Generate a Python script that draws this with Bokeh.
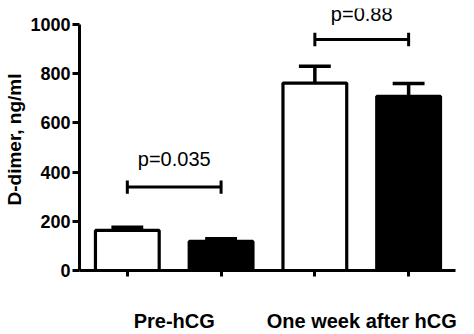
from bokeh.plotting import figure
from bokeh.models import ColumnDataSource, FixedTicker, Range1d
from bokeh.core.properties import value
from bokeh.embed import file_html
from bokeh.resources import INLINE

# ---- data ----
groups = ["Pre-hCG", "One week after hCG"]
bar_x = [1, 2, 3, 4]
means = [163, 118, 762, 708]
errors = [13, 11, 68, 52]
fills = ["white", "black", "white", "black"]
bracket_left = [1, 3]
bracket_right = [2, 4]
bracket_y = [339, 939]
p_labels = ["p=0.035", "p=0.88"]
p_y = [452, 1042]
y_ticks = [0, 200, 400, 600, 800, 1000]

FONT = "Liberation Sans"
W = 0.68

p = figure(width=474, height=334, output_backend="svg", toolbar_location=None,
           x_range=Range1d(0.49, 4.5), y_range=Range1d(0, 1065),
           min_border_left=79, min_border_right=19, min_border_top=8, min_border_bottom=64)
p.outline_line_color = None
p.grid.visible = False
p.background_fill_color = "white"

src = ColumnDataSource(dict(x=bar_x, top=means, fill=fills,
                            etop=[m + e for m, e in zip(means, errors)],
                            cl=[x - W / 4 for x in bar_x], cr=[x + W / 4 for x in bar_x]))
p.segment(x0="x", y0="top", x1="x", y1="etop", source=src, line_color="black", line_width=3.5)
p.segment(x0="cl", y0="etop", x1="cr", y1="etop", source=src, line_color="black", line_width=3.5)
p.vbar(x="x", top="top", bottom=0, width=W, source=src, fill_color="fill",
       line_color="black", line_width=3.2)

bsrc = ColumnDataSource(dict(x0=bracket_left, x1=bracket_right, y=bracket_y,
                             ylo=[y - 27 for y in bracket_y], yhi=[y + 27 for y in bracket_y],
                             xm=[(a + b) / 2 for a, b in zip(bracket_left, bracket_right)],
                             py=p_y, lab=p_labels))
p.segment(x0="x0", y0="y", x1="x1", y1="y", source=bsrc, line_color="black", line_width=3)
p.segment(x0="x0", y0="ylo", x1="x0", y1="yhi", source=bsrc, line_color="black", line_width=3)
p.segment(x0="x1", y0="ylo", x1="x1", y1="yhi", source=bsrc, line_color="black", line_width=3)
p.text(x="xm", y="py", text="lab", source=bsrc, text_font=value(FONT), text_font_size="20px",
       text_align="center", text_baseline="middle", text_color="black")

# y axis
ya = p.yaxis[0]
ya.ticker = FixedTicker(ticks=y_ticks)
ya.bounds = (0, 1000)
ya.axis_line_width = 3
ya.axis_line_color = "black"
ya.major_tick_line_width = 3
ya.major_tick_line_color = "black"
ya.major_tick_out = 7
ya.major_tick_in = 0
ya.minor_tick_line_color = None
ya.major_label_text_font = FONT
ya.major_label_text_font_style = "bold"
ya.major_label_text_font_size = "18px"
ya.major_label_text_color = "black"
ya.major_label_standoff = 2
ya.axis_label = "D-dimer, ng/ml"
ya.axis_label_text_font = FONT
ya.axis_label_text_font_style = "bold"
ya.axis_label_text_font_size = "19px"
ya.axis_label_text_color = "black"
ya.axis_label_standoff = 2

# x axis
xa = p.xaxis[0]
centers = [(bar_x[0] + bar_x[1]) / 2, (bar_x[2] + bar_x[3]) / 2]
xa.ticker = FixedTicker(ticks=centers, minor_ticks=bar_x)
xa.major_label_overrides = {c: g for c, g in zip(centers, groups)}
xa.axis_line_width = 3
xa.axis_line_color = "black"
xa.major_tick_line_color = None
xa.minor_tick_line_width = 3
xa.minor_tick_line_color = "black"
xa.minor_tick_out = 6
xa.minor_tick_in = 0
xa.major_label_text_font = FONT
xa.major_label_text_font_style = "bold"
xa.major_label_text_font_size = "20px"
xa.major_label_text_color = "black"
xa.major_label_standoff = 33

open("out.html", "w").write(file_html(p, INLINE))
